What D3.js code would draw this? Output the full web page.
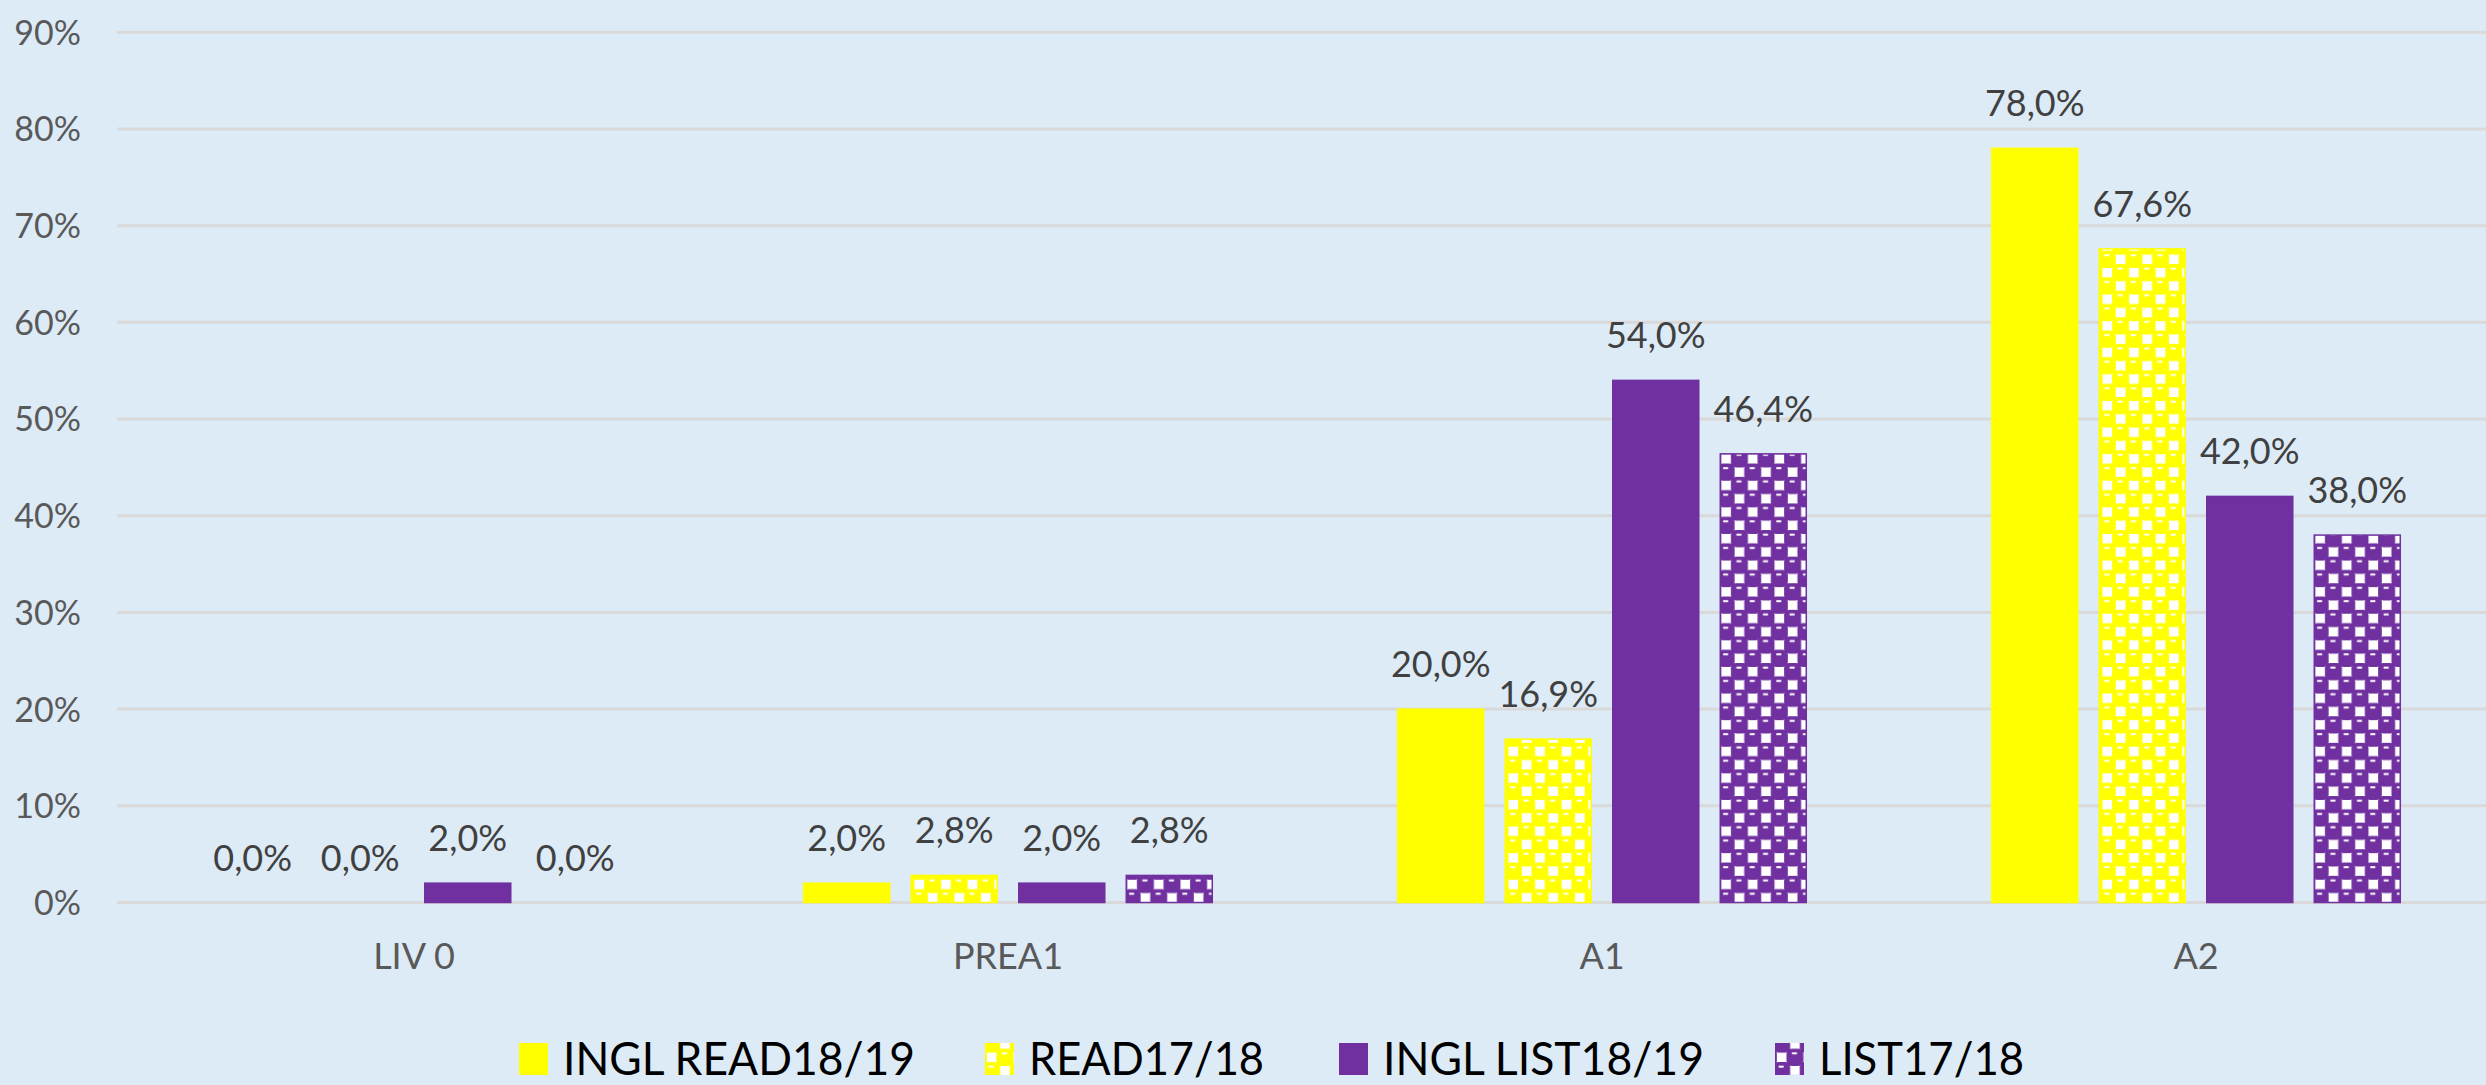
<!DOCTYPE html>
<html>
<head>
<meta charset="utf-8">
<script src="https://cdn.jsdelivr.net/npm/d3@7"></script>
<style>
  html, body { margin: 0; padding: 0; background: #DDEBF7; }
  svg { display: block; }
  text { font-family: Lato, "Open Sans", sans-serif; }
</style>
</head>
<body>
<svg id="chart" width="2486" height="1085"></svg>
<script>
// ---- data ----
const categories = ["LIV 0", "PREA1", "A1", "A2"];
const seriesNames = ["INGL READ18/19", "READ17/18", "INGL LIST18/19", "LIST17/18"];
const read1819 = [0.0, 2.0, 20.0, 78.0];
const read1718 = [0.0, 2.8, 16.9, 67.6];
const list1819 = [2.0, 2.0, 54.0, 42.0];
const list1718 = [0.0, 2.8, 46.4, 38.0];
const yTicks = [0, 10, 20, 30, 40, 50, 60, 70, 80, 90];

const seriesValues = [read1819, read1718, list1819, list1718];

// ---- layout ----
const W = 2486, H = 1085;
const svg = d3.select("#chart");
svg.append("rect").attr("width", W).attr("height", H).attr("fill", "#DDEBF7");

const YELLOW = "#FFFF00", PURPLE = "#7030A0";

// patterns (sphere-like checker)
const defs = svg.append("defs");
function makePattern(id, color) {
  const T = 26.6, c = T / 4, s = 17;
  const p = defs.append("pattern").attr("id", id)
    .attr("patternUnits", "userSpaceOnUse")
    .attr("width", T).attr("height", T);
  p.append("rect").attr("width", T).attr("height", T).attr("fill", "#FFFFFF");
  const centers = [];
  [-1, 0, 1].forEach(ox => [-1, 0, 1].forEach(oy => {
    centers.push([c + ox * T, c + oy * T]);
    centers.push([3 * c + ox * T, 3 * c + oy * T]);
  }));
  centers.forEach(([cx, cy]) => {
    p.append("rect").attr("x", cx - s / 2).attr("y", cy - s / 2)
      .attr("width", s).attr("height", s).attr("rx", 5).attr("fill", color);
  });
  [[c, c], [3 * c, 3 * c]].forEach(([cx, cy]) => {
    p.append("rect").attr("x", cx - 3).attr("y", cy - 5).attr("width", 5).attr("height", 2).attr("fill", "#FFFFFF");
  });
}
makePattern("patY", YELLOW);
makePattern("patP", PURPLE);

const fills = [YELLOW, "url(#patY)", PURPLE, "url(#patP)"];
const strokes = [YELLOW, YELLOW, PURPLE, PURPLE];

const x0 = d3.scaleBand().domain(categories).range([117, 2493]).paddingInner(0.276).paddingOuter(0.138);
const x1 = d3.scaleBand().domain(seriesNames).range([0, x0.bandwidth()]).paddingInner(0.2).paddingOuter(0.1);
const y = d3.scaleLinear().domain([0, 90]).range([902.5, 32.3]);

// gridlines
svg.append("g").selectAll("line").data(yTicks).join("line")
  .attr("x1", 117).attr("x2", 2493)
  .attr("y1", d => y(d)).attr("y2", d => y(d))
  .attr("stroke", "#D9D9D9").attr("stroke-width", 3);

// y axis labels
const yAxis = d3.axisLeft(y).tickValues(yTicks).tickFormat(d => d + "%").tickSize(0).tickPadding(0);
const gy = svg.append("g").attr("transform", "translate(81,0)").call(yAxis);
gy.select(".domain").remove();
gy.selectAll("text").attr("font-size", 34).attr("fill", "#595959")
  .attr("font-family", "Lato, 'Open Sans', sans-serif").attr("dy", "0.35em");

// x axis labels
const xAxis = d3.axisBottom(x0).tickSize(0).tickPadding(0);
const gx = svg.append("g").attr("transform", "translate(0,969)").call(xAxis);
gx.select(".domain").remove();
gx.selectAll("text").attr("font-size", 36).attr("fill", "#595959")
  .attr("font-family", "Lato, 'Open Sans', sans-serif").attr("dy", 0).attr("y", 0);

// bars
const locale = d3.formatLocale({ decimal: ",", thousands: ".", grouping: [3], currency: ["", "€"] });
const fmt = v => locale.format(".1f")(v) + "%";

const groups = svg.append("g").selectAll("g").data(categories).join("g")
  .attr("transform", d => `translate(${x0(d)},0)`);

groups.selectAll("rect").data((d, i) => seriesNames.map((s, j) => ({ s, j, v: seriesValues[j][i] })))
  .join("rect")
  .attr("x", d => x1(d.s))
  .attr("width", x1.bandwidth())
  .attr("y", d => y(d.v))
  .attr("height", d => y(0) - y(d.v))
  .attr("fill", d => fills[d.j])
  .attr("stroke", d => d.v > 0 ? strokes[d.j] : "none")
  .attr("stroke-width", 1.5);

groups.selectAll("text").data((d, i) => seriesNames.map((s, j) => ({ s, j, v: seriesValues[j][i] })))
  .join("text")
  .attr("x", d => x1(d.s) + x1.bandwidth() / 2)
  .attr("y", d => y(d.v) - 32)
  .attr("text-anchor", "middle")
  .attr("font-size", 36)
  .attr("fill", "#404040")
  .text(d => fmt(d.v));

// legend
const legendX = [519, 985, 1339, 1775];
const legendTextW = [352, 235, 321, 205];
const lg = svg.append("g").selectAll("g").data(seriesNames).join("g")
  .attr("transform", (d, i) => `translate(${legendX[i]},0)`);
lg.append("rect").attr("x", 0).attr("y", 1043).attr("width", 29).attr("height", 32)
  .attr("fill", (d, i) => fills[i]);
lg.append("text").attr("x", 44).attr("y", 1075)
  .attr("font-size", 46).attr("fill", "#000000")
  .attr("textLength", (d, i) => legendTextW[i]).attr("lengthAdjust", "spacingAndGlyphs")
  .text(d => d);
</script>
</body>
</html>
